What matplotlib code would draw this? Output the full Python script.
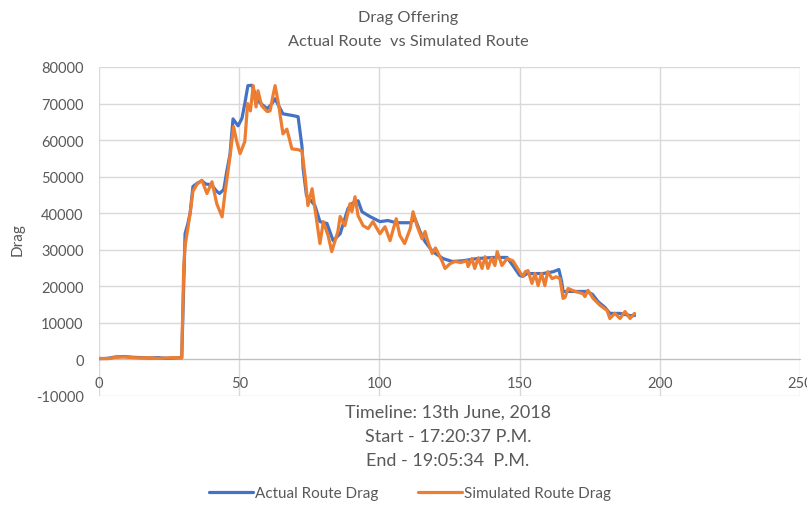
import matplotlib
matplotlib.use("Agg")
import matplotlib.pyplot as plt

# ---- data ----
actual_x = [0, 3, 6, 9, 12, 15, 18, 21, 24, 27, 29.5, 30.2, 30.7, 31.7, 32.5, 33.5, 35, 36.7, 38, 40,
            42, 43, 44.5, 45.6, 46.7, 47.8, 49.6, 51, 52, 53.1, 54.5, 55.5, 57, 58.5, 60, 61.5, 62.8,
            64, 65.6, 67, 69.2, 71, 72.4, 72.8, 74, 75.5, 77, 78.8, 81.3, 83.5, 86, 88.8, 90.5, 92.4,
            93.8, 96.6, 100.2, 103, 106, 111, 112.7, 114.5, 116.3, 119, 122.7, 126, 129.8, 134.8,
            140.5, 145.5, 147.6, 150, 151.2, 152.6, 153.7, 158.3, 162, 164, 165, 165.5, 168, 171.5,
            174, 176, 178, 180.5, 182.2, 185.8, 189.4, 191]
actual_y = [200, 300, 700, 800, 600, 500, 400, 500, 300, 400, 500, 20000, 34400, 37200, 40000, 47300,
            48200, 48900, 48000, 47800, 46000, 45400, 46500, 51600, 56000, 65800, 63900, 66000, 70000,
            74900, 75000, 73000, 70500, 69500, 68600, 69800, 71300, 69500, 67200, 67000, 66700, 66400,
            58200, 52200, 44800, 43500, 42100, 37700, 37200, 32500, 34400, 41300, 42800, 43400, 40400,
            39100, 37700, 38000, 37400, 37400, 38500, 35000, 32200, 29500, 27600, 26800, 27000, 27600,
            27900, 27900, 25700, 23000, 22700, 23500, 23500, 23500, 24000, 24600, 21300, 18600, 18600,
            18600, 18600, 17800, 15800, 14200, 12600, 12600, 12000, 12000]

sim_x = [0, 3, 6, 9, 12, 15, 18, 21, 24, 27, 29.5, 30.2, 30.7, 31.7, 32.5, 33.5, 35, 36.7, 38.5, 40.3,
         42, 43.9, 45, 46.7, 48, 49, 50.3, 52, 53, 54, 55, 56, 56.7, 58, 60, 61, 62, 62.8, 64, 65.6,
         67, 68.8, 71, 72.4, 73.5, 74.5, 76, 77, 78.8, 80, 81.7, 83, 85.2, 86, 87.7, 89.5, 90.2, 91.3,
         92.4, 94.2, 96, 97.7, 100.2, 102, 103.8, 106, 107.3, 109, 111, 112, 113.4, 115.2, 116.3,
         117.3, 118.8, 120, 122.3, 123.4, 125.2, 127, 129, 131.2, 131.6, 133, 134, 135.3, 136.6,
         137.7, 138.7, 140, 141.2, 142, 143.7, 145.5, 147.6, 150, 151.2, 152, 153, 154.4, 155.5,
         156.6, 157.8, 159, 160, 161.6, 163, 164.4, 165.5, 166.2, 167.3, 169.8, 172.6, 173.3, 174.4,
         176.2, 178.7, 181.2, 182.2, 184, 185.8, 187.6, 189.4, 191]
sim_y = [300, 200, 600, 700, 500, 400, 500, 300, 400, 500, 400, 25000, 31000, 36000, 40000, 46000,
         48000, 49000, 45400, 48600, 42600, 39000, 45900, 55400, 63700, 60000, 56300, 59600, 70000,
         68000, 74900, 69100, 73500, 69400, 67800, 68000, 72000, 74900, 70000, 61700, 63000, 57600,
         57400, 57000, 50000, 42100, 46700, 41300, 31700, 37700, 33900, 29500, 35000, 39100, 36600,
         42600, 40400, 44500, 39300, 36600, 35800, 37700, 34400, 36300, 32500, 38500, 33900, 31700,
         35800, 40400, 36600, 33000, 35000, 32200, 29000, 30500, 27000, 24900, 26200, 26800, 26500,
         27000, 25400, 27600, 24900, 27800, 24900, 28100, 24900, 27800, 25700, 29500, 25700, 27600,
         27000, 24000, 22700, 24000, 24300, 20800, 23500, 20200, 23500, 20200, 24000, 22100, 22600,
         22100, 16700, 17000, 19400, 18600, 18000, 17200, 18900, 16700, 14800, 13400, 11200, 12600,
         11200, 13100, 11200, 12600]

x_ticks = [0, 50, 100, 150, 200, 250]
y_ticks = [-10000, 0, 10000, 20000, 30000, 40000, 50000, 60000, 70000, 80000]

title_lines = ["Drag Offering", "Actual Route  vs Simulated Route"]
xlabel_lines = ["Timeline: 13th June, 2018", "Start - 17:20:37 P.M.", "End - 19:05:34  P.M."]
series_names = ["Actual Route Drag", "Simulated Route Drag"]

# ---- style ----
plt.rcParams['font.family'] = ['Lato', 'DejaVu Sans']
txt = '#595959'
grid = '#D9D9D9'
blue = '#4472C4'
orange = '#ED7D31'

W, H = 807, 506
fig = plt.figure(figsize=(W / 100, H / 100), dpi=100)
ax = fig.add_axes([99 / W, 1 - 397 / H, (800 - 99) / W, (397 - 68) / H])

ax.plot(actual_x, actual_y, color=blue, lw=2.3, label=series_names[0],
        solid_joinstyle='round', solid_capstyle='round', zorder=3)
ax.plot(sim_x, sim_y, color=orange, lw=2.3, label=series_names[1],
        solid_joinstyle='round', solid_capstyle='round', zorder=4)

ax.set_xlim(0, 250)
ax.set_ylim(-10000, 80000)
ax.set_xticks(x_ticks)
ax.set_yticks(y_ticks)
ax.set_yticklabels([str(v) for v in y_ticks])
ax.grid(True, color=grid, lw=1)
ax.set_axisbelow(True)
for s in ['top', 'right', 'left']:
    ax.spines[s].set_visible(False)
ax.spines['bottom'].set_position(('data', 0))
ax.spines['bottom'].set_color('#BFBFBF')
ax.tick_params(axis='both', length=0, colors=txt, labelsize=10.5)
ax.tick_params(axis='x', pad=12)
ax.tick_params(axis='y', pad=11)

fig.text(18 / W, 1 - 240 / H, "Drag", rotation=90, ha='center', va='center', color=txt, fontsize=11)

for i, t in enumerate(title_lines):
    fig.text(408 / W, 1 - (18 + 24 * i) / H, t, ha='center', va='center', color=txt, fontsize=11.8)
for i, t in enumerate(xlabel_lines):
    fig.text(448 / W, 1 - (413 + 24 * i) / H, t, ha='center', va='center', color=txt, fontsize=13)

leg = fig.legend(loc='center', bbox_to_anchor=(410 / W, 1 - 494 / H), ncol=2, frameon=False,
                 fontsize=11, handlelength=2.9, handletextpad=0.1, columnspacing=2.6, labelcolor=txt)

fig.savefig('out.png', dpi=100)
